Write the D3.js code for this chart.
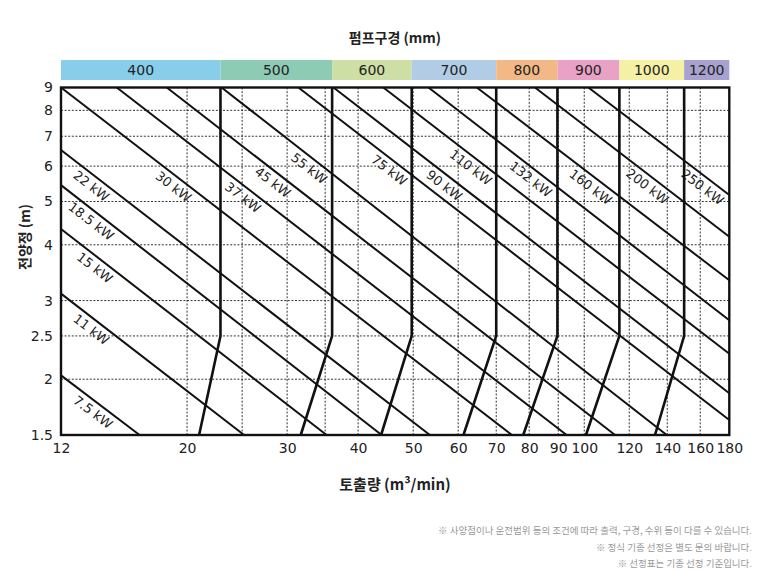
<!DOCTYPE html>
<html>
<head>
<meta charset="utf-8">
<script src="https://cdn.jsdelivr.net/npm/d3@7"></script>
<style>
  html, body { margin: 0; padding: 0; background: #fff; }
  svg { display: block; }
</style>
</head>
<body>
<script>
// ---------- data ----------
const xTicks = [12, 20, 30, 40, 50, 60, 70, 80, 90, 100, 120, 140, 160, 180];
const xGrid = [20, 25, 30, 35, 40, 50, 60, 70, 80, 90, 100, 120, 140, 160];
const yTicks = [9, 8, 7, 6, 5, 4, 3, 2.5, 2, 1.5];
const yGrid = [8, 7, 6, 5, 4, 3, 2.5, 2];

// pump bore bands (mm) and their flow ranges (m3/min)
const boreNames = ["400", "500", "600", "700", "800", "900", "1000", "1200"];
const boreFrom = [12, 22.9, 36.0, 49.7, 70.0, 89.7, 115.3, 149.9];
const boreTo = [22.9, 36.0, 49.7, 70.0, 89.7, 115.3, 149.9, 180];
const boreColors = ["#88cdea", "#8ecbb5", "#cddfa4", "#b2cce6", "#f2b885", "#e9a2c6", "#f4f0a4", "#a7a2d0"];

// boundary lines between bores: vertical part at top, knee at 2.5 m, foot at 1.5 m
const boundTopQ = [22.9, 36.0, 49.7, 70.0, 89.7, 115.3, 149.9];
const boundFootQ = [21.0, 31.7, 43.9, 61.3, 78.1, 100.7, 133.2];
const boundKneeH = 2.5;

// motor output lines: start/end points [Q, H]
const powerNames = ["7.5 kW", "11 kW", "15 kW", "18.5 kW", "22 kW", "30 kW", "37 kW", "45 kW",
                    "55 kW", "75 kW", "90 kW", "110 kW", "132 kW", "160 kW", "200 kW", "250 kW"];
const powerStart = [[12, 2.04], [12, 3.11], [12, 4.34], [12, 5.44], [12, 6.52], [12, 9],
                    [15.04, 9], [18.42, 9], [23.0, 9], [31.4, 9], [36.2, 9], [44.3, 9],
                    [53.2, 9], [64.7, 9], [81.9, 9], [101.7, 9]];
const powerEnd = [[16.5, 1.5], [25.2, 1.5], [35.2, 1.5], [44.0, 1.5], [53.5, 1.5], [74.6, 1.5],
                  [93.1, 1.5], [113.3, 1.5], [139.7, 1.5], [180, 1.62], [180, 1.86], [180, 2.28],
                  [180, 2.71], [180, 3.33], [180, 4.17], [180, 5.17]];
const powerLabelQ = [14.0, 13.9, 14.1, 13.9, 13.9, 19.4, 25.7, 29.0, 33.6, 46.5, 58.1, 64.7,
                     82.5, 105.2, 132.4, 165.5];

const titleTop = "펌프구경 (mm)";
const titleX = "토출량 (m³/min)";
const titleY = "전양정 (m)";
const notes = [
  "※ 사양점이나 운전범위 등의 조건에 따라 출력, 구경, 수위 등이 다를 수 있습니다.",
  "※ 정식 기종 선정은 별도 문의 바랍니다.",
  "※ 선정표는 기종 선정 기준입니다."
];

// ---------- drawing ----------
const W = 757, H = 572;
const L = 61, R = 729.3, T = 87.5, B = 435;
const numFont = "'DejaVu Sans', 'Noto Sans', sans-serif";
const krFont = "'Noto Sans CJK KR', 'Noto Sans', sans-serif";

const svg = d3.select("body").append("svg").attr("width", W).attr("height", H);
const x = d3.scaleLog().domain([12, 180]).range([L, R]);
const y = d3.scaleLog().domain([1.5, 9]).range([B, T]);

// header bar
const hb = svg.append("g");
boreNames.forEach((n, i) => {
  hb.append("rect")
    .attr("x", x(boreFrom[i])).attr("y", 60)
    .attr("width", x(boreTo[i]) - x(boreFrom[i])).attr("height", 20)
    .attr("fill", boreColors[i]);
  hb.append("text")
    .attr("x", (x(boreFrom[i]) + x(boreTo[i])) / 2).attr("y", 70)
    .attr("text-anchor", "middle").attr("dominant-baseline", "central")
    .attr("font-family", numFont).attr("font-size", 14).attr("fill", "#222")
    .text(n);
});
svg.append("text").attr("x", 395).attr("y", 37)
  .attr("text-anchor", "middle").attr("dominant-baseline", "central")
  .attr("font-family", krFont).attr("font-weight", "bold").attr("font-size", 14).attr("fill", "#222")
  .text(titleTop);

// grid
const grid = svg.append("g").attr("stroke", "#333").attr("stroke-width", 1).attr("stroke-dasharray", "2,1.6");
grid.selectAll("line.v").data(xGrid).join("line")
  .attr("x1", d => x(d)).attr("x2", d => x(d)).attr("y1", T).attr("y2", B);
grid.selectAll("line.h").data(yGrid).join("line")
  .attr("y1", d => y(d)).attr("y2", d => y(d)).attr("x1", L).attr("x2", R);

// axes (labels only)
const xAxis = d3.axisBottom(x).tickValues(xTicks).tickFormat(d3.format("d")).tickSize(0).tickPadding(8);
const gx = svg.append("g").attr("transform", `translate(0,${B})`).call(xAxis);
gx.select(".domain").remove();
gx.selectAll("text").attr("font-family", numFont).attr("font-size", 14).attr("fill", "#222");

const yAxis = d3.axisLeft(y).tickValues(yTicks).tickFormat(d => String(d)).tickSize(0).tickPadding(8);
const gy = svg.append("g").attr("transform", `translate(${L},0)`).call(yAxis);
gy.select(".domain").remove();
gy.selectAll("text").attr("font-family", numFont).attr("font-size", 14).attr("fill", "#222");

// power lines
const line = d3.line().x(d => x(d[0])).y(d => y(d[1]));
const pl = svg.append("g");
powerNames.forEach((n, i) => {
  const s = powerStart[i], e = powerEnd[i];
  pl.append("path").attr("d", line([s, e]))
    .attr("fill", "none").attr("stroke", "#111").attr("stroke-width", 2);
  // label
  const x0 = x(s[0]), y0 = y(s[1]), x1 = x(e[0]), y1 = y(e[1]);
  const ang = Math.atan2(y1 - y0, x1 - x0);
  const lx = x(powerLabelQ[i]);
  const ly = y0 + (lx - x0) * (y1 - y0) / (x1 - x0);
  const d = 10;
  const cx = lx - Math.sin(ang) * d, cy = ly + Math.cos(ang) * d;
  pl.append("text")
    .attr("transform", `translate(${cx},${cy}) rotate(${ang * 180 / Math.PI})`)
    .attr("text-anchor", "middle").attr("dominant-baseline", "central")
    .attr("font-family", numFont).attr("font-size", 13).attr("fill", "#222")
    .text(n);
});

// bore boundaries
const bl = svg.append("g");
boundTopQ.forEach((q, i) => {
  bl.append("path").attr("d", line([[q, 9], [q, boundKneeH], [boundFootQ[i], 1.5]]))
    .attr("fill", "none").attr("stroke", "#111").attr("stroke-width", 2.6)
    .attr("stroke-linejoin", "round");
});

// frame
svg.append("rect").attr("x", L).attr("y", T).attr("width", R - L).attr("height", B - T)
  .attr("fill", "none").attr("stroke", "#111").attr("stroke-width", 2.4);

// axis titles
svg.append("text").attr("x", 395).attr("y", 483)
  .attr("text-anchor", "middle").attr("dominant-baseline", "central")
  .attr("font-family", krFont).attr("font-weight", "bold").attr("font-size", 15).attr("fill", "#222")
  .text(titleX);
svg.append("text").attr("transform", `translate(24,237) rotate(-90)`)
  .attr("text-anchor", "middle").attr("dominant-baseline", "central")
  .attr("font-family", krFont).attr("font-weight", "bold").attr("font-size", 14).attr("fill", "#222")
  .text(titleY);

// notes
svg.selectAll("text.note").data(notes).join("text").attr("class", "note")
  .attr("x", 752).attr("y", (d, i) => 530 + i * 16.5)
  .attr("text-anchor", "end").attr("dominant-baseline", "central")
  .attr("font-family", krFont).attr("font-size", 9.5).attr("fill", "#999")
  .text(d => d);
</script>
</body>
</html>
